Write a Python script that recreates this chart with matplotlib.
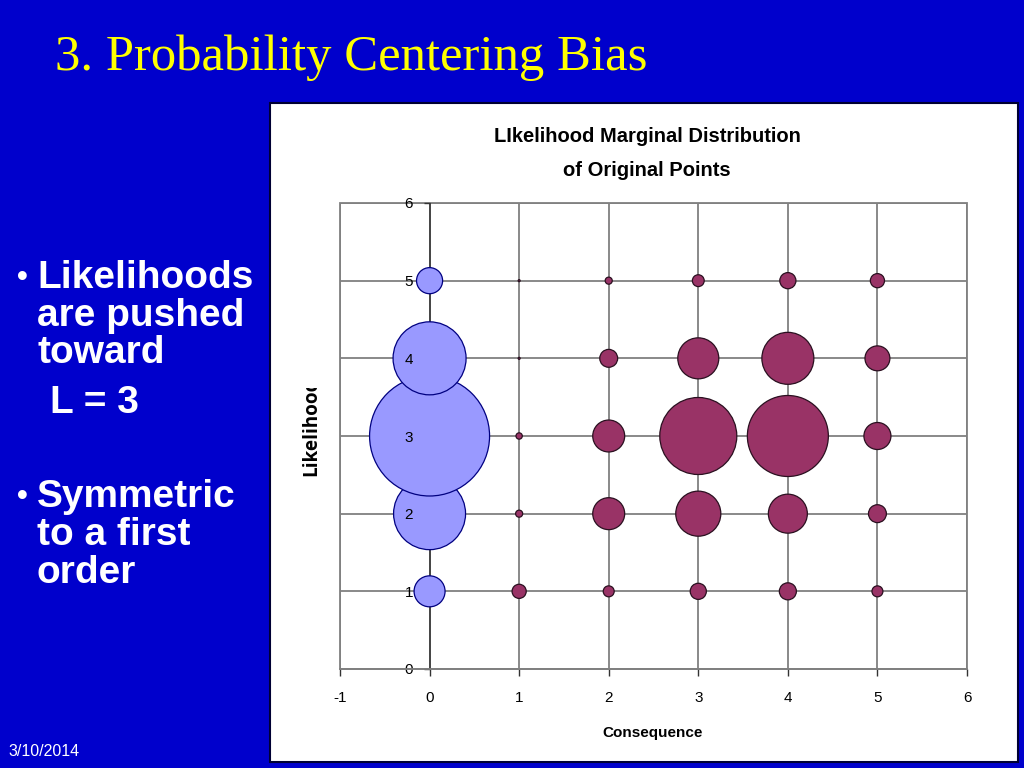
import matplotlib
matplotlib.use("Agg")
import matplotlib.pyplot as plt
from matplotlib.patches import Rectangle
import numpy as np

plt.rcParams["axes.unicode_minus"] = False

# ---------------- data ----------------
likelihood_levels = [1, 2, 3, 4, 5]
consequence_levels = [1, 2, 3, 4, 5]

# marginal (blue, plotted at consequence 0), relative bubble areas
marginal_vals = [96, 518, 1440, 533, 68]

# bubble areas per consequence column (rows = likelihood 1..5)
cons1_vals = [20, 5, 4, 0.4, 0.4]
cons2_vals = [12, 102, 102, 32, 5]
cons3_vals = [26, 203, 593, 168, 14]
cons4_vals = [29, 152, 656, 270, 26]
cons5_vals = [12, 32, 73, 62, 20]

x_ticks = [-1, 0, 1, 2, 3, 4, 5, 6]
y_ticks = [0, 1, 2, 3, 4, 5, 6]

chart_title_1 = "LIkelihood Marginal Distribution"
chart_title_2 = "of Original Points"
slide_title = "3. Probability Centering Bias"
date_text = "3/10/2014"

# ---------------- style ----------------
W, H, DPI = 1024, 768, 100
BG = "#0000CC"
GRID = "#808080"
BLUE_FACE, BLUE_EDGE = "#9999FF", "#000080"
MAROON_FACE, MAROON_EDGE = "#993366", "#2a1020"
SANS = ["Liberation Sans", "DejaVu Sans"]
SERIF = ["Liberation Serif", "DejaVu Serif"]
K = 10 * (72.0 / DPI) ** 2   # area value -> points^2

fig = plt.figure(figsize=(W / DPI, H / DPI), dpi=DPI, facecolor=BG)

def fx(px):
    return px / W

def fy(py):
    return 1 - py / H

# white chart panel
panel = Rectangle((fx(270), fy(762)), fx(1018) - fx(270), fy(103) - fy(762),
                  transform=fig.transFigure, facecolor="white",
                  edgecolor="#000033", lw=1.5, zorder=-1)
fig.add_artist(panel)

# slide title
fig.text(fx(55), fy(70), slide_title, color="#FFFF00", fontsize=36.5,
         family=SERIF, ha="left", va="baseline")

# bullets
bullet_lines = [
    ("Likelihoods", 37, 278), ("are pushed", 37, 316),
    ("toward", 37, 353), ("L = 3", 50, 403),
    ("Symmetric", 37, 497), ("to a first", 37, 535),
    ("order", 37, 573),
]
for txt, x, y in bullet_lines:
    fig.text(fx(x), fy(y), txt, color="white", fontsize=28, fontweight="bold",
             family=SANS, ha="left", va="center")
for y in (278, 497):
    fig.text(fx(17), fy(y), "\u2022", color="white", fontsize=22,
             fontweight="bold", family=SANS, ha="left", va="center")

fig.text(fx(8), fy(752), date_text, color="white", fontsize=11.5,
         family=SANS, ha="left", va="center")

# chart titles
fig.text(fx(647), fy(137), chart_title_1, fontsize=14.5, fontweight="bold",
         family=SANS, ha="center", va="center", color="black")
fig.text(fx(647), fy(170), chart_title_2, fontsize=14.5, fontweight="bold",
         family=SANS, ha="center", va="center", color="black")

# axes
ax = fig.add_axes([fx(340), fy(669), fx(967) - fx(340), fy(203) - fy(669)])
ax.set_facecolor("white")
ax.set_xlim(-1, 6)
ax.set_ylim(0, 6)
ax.set_xticks(x_ticks)
ax.set_yticks(y_ticks)

# manual grid below bubbles
for xv in x_ticks:
    ax.axvline(xv, color=GRID, lw=1.3, zorder=0.5)
for yv in y_ticks:
    ax.axhline(yv, color=GRID, lw=1.3, zorder=0.5)
ax.axvline(0, color="#333333", lw=1.1, zorder=0.6)

for s in ["top", "right"]:
    ax.spines[s].set_visible(False)
ax.spines["left"].set_position(("data", 0))
ax.spines["left"].set_color("none")
ax.spines["bottom"].set_color(GRID)
ax.spines["bottom"].set_linewidth(1.3)
ax.add_patch(Rectangle((0, 0), 1, 1, transform=ax.transAxes, fill=False,
                       edgecolor=GRID, lw=1.3, zorder=0.5, clip_on=False))

ax.tick_params(axis="x", direction="out", length=5, width=1, color="#333333",
               pad=11, labelsize=11)
ax.tick_params(axis="y", direction="out", length=4, width=1, color="#333333",
               pad=8, labelsize=11)
for lab in ax.get_xticklabels() + ax.get_yticklabels():
    lab.set_fontfamily(SANS)
# tick marks hidden behind the blue bubbles in the reference
for t in ax.yaxis.get_major_ticks()[1:6]:
    t.tick1line.set_visible(False)

# bubbles
ax.scatter([0] * len(likelihood_levels), likelihood_levels,
           s=np.array(marginal_vals) * K, facecolor=BLUE_FACE,
           edgecolor=BLUE_EDGE, lw=0.9, zorder=1)
cols = [cons1_vals, cons2_vals, cons3_vals, cons4_vals, cons5_vals]
for c, vals in zip(consequence_levels, cols):
    ax.scatter([c] * len(likelihood_levels), likelihood_levels,
               s=np.array(vals) * K, facecolor=MAROON_FACE,
               edgecolor=MAROON_EDGE, lw=0.9, zorder=1)

# axis labels
fig.text(fx(653), fy(733), "Consequence", fontsize=11, fontweight="bold",
         family=SANS, ha="center", va="center", color="black")
fig.text(fx(311), fy(476), "Likelihood", fontsize=13.6, fontweight="bold",
         family=["Open Sans", "DejaVu Sans"], rotation=90,
         ha="center", va="bottom", color="black", zorder=3)
# the reference's y-axis title is cut off at its top end
fig.add_artist(Rectangle((fx(292), fy(388)), fx(36), fy(360) - fy(388),
                         transform=fig.transFigure, facecolor="white",
                         edgecolor="none", zorder=4))

fig.savefig("out.png", dpi=DPI, facecolor=BG)
